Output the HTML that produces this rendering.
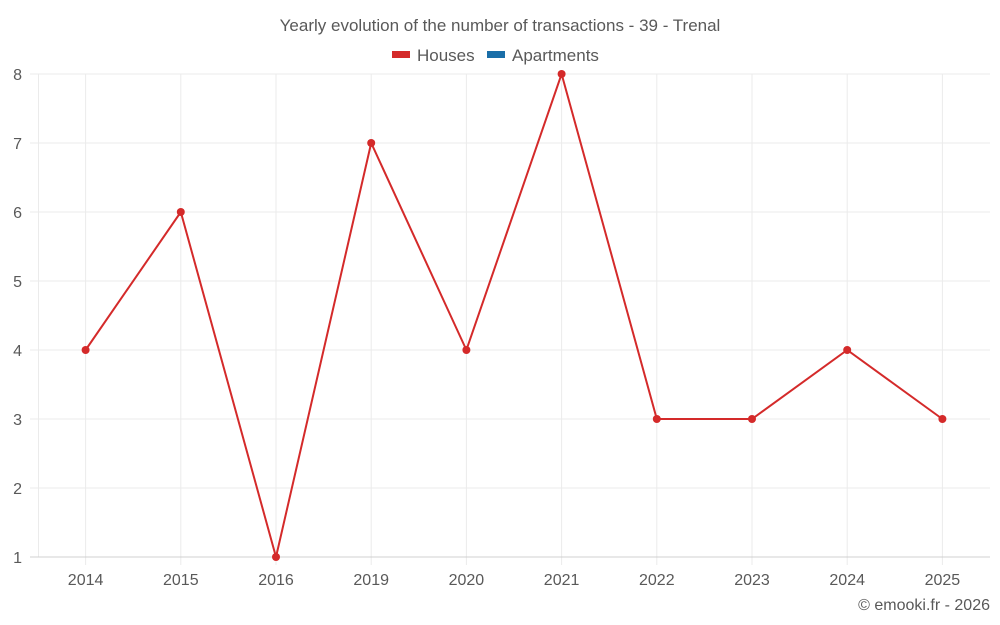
<!DOCTYPE html>
<html><head><meta charset="utf-8"><style>
body{margin:0;background:#fff;}
svg{display:block;font-family:"Liberation Sans",sans-serif;}
</style></head><body>
<svg id="chart" width="1000" height="625">
<text x="500" y="31" text-anchor="middle" font-size="17" fill="#595959">Yearly evolution of the number of transactions - 39 - Trenal</text>
<g>
<g><rect x="392" y="51" width="18" height="7" fill="#d42a2a"/><text x="417" y="61" font-size="17" fill="#595959">Houses</text></g>
<g><rect x="487" y="51" width="18" height="7" fill="#1a6ea8"/><text x="512" y="61" font-size="17" fill="#595959">Apartments</text></g>
</g>
<g id="grid"></g>
<g id="axes"></g>
<g id="series"></g>
<text x="990" y="610" text-anchor="end" font-size="16" fill="#595959">© emooki.fr - 2026</text>
</svg>
<script>
const categories=["2014","2015","2016","2019","2020","2021","2022","2023","2024","2025"];
const houses=[4,6,1,7,4,8,3,3,4,3];
const yTicks=[1,2,3,4,5,6,7,8];
const L=38,R=990,T=74,B=557,ymin=1,ymax=8;
const NS="http://www.w3.org/2000/svg";
const step=(R-L)/categories.length;
function x(i){return L+step*(i+0.5);}
function y(v){return B-(v-ymin)/(ymax-ymin)*(B-T);}
function mk(t,a,p){const e=document.createElementNS(NS,t);for(const k in a)e.setAttribute(k,a[k]);p.appendChild(e);return e;}
const grid=document.getElementById('grid'),axes=document.getElementById('axes'),series=document.getElementById('series');
const ax=mk('line',{x1:L+0.5,x2:L+0.5,y1:T,y2:B,stroke:'#ebebeb','stroke-width':1},grid);


categories.forEach((c,i)=>{
 const l=mk('line',{x1:x(i),x2:x(i),y1:T,y2:B+8,stroke:'#ebebeb','stroke-width':1},grid);
 
 
 const t=mk('text',{x:x(i),y:585,'text-anchor':'middle','font-size':16,fill:'#595959'},axes);
 t.textContent=c;
 
 
});
yTicks.forEach(v=>{
 const l=mk('line',{x1:30,x2:R,y1:y(v),y2:y(v),stroke:v===ymin?'#d0d0d0':'#ebebeb','stroke-width':1},grid);
 
 
 const t=mk('text',{x:22,y:y(v)+6,'text-anchor':'end','font-size':16,fill:'#595959'},axes);
 t.textContent=v;
 
 
});
const pl=mk('polyline',{points:houses.map((v,i)=>x(i)+','+y(v)).join(' '),fill:'none',stroke:'#d42a2a','stroke-width':2},series);


houses.forEach((v,i)=>{
 const c=mk('circle',{cx:x(i),cy:y(v),r:4,fill:'#d42a2a'},series);
 
 
});
</script>
</body></html>
